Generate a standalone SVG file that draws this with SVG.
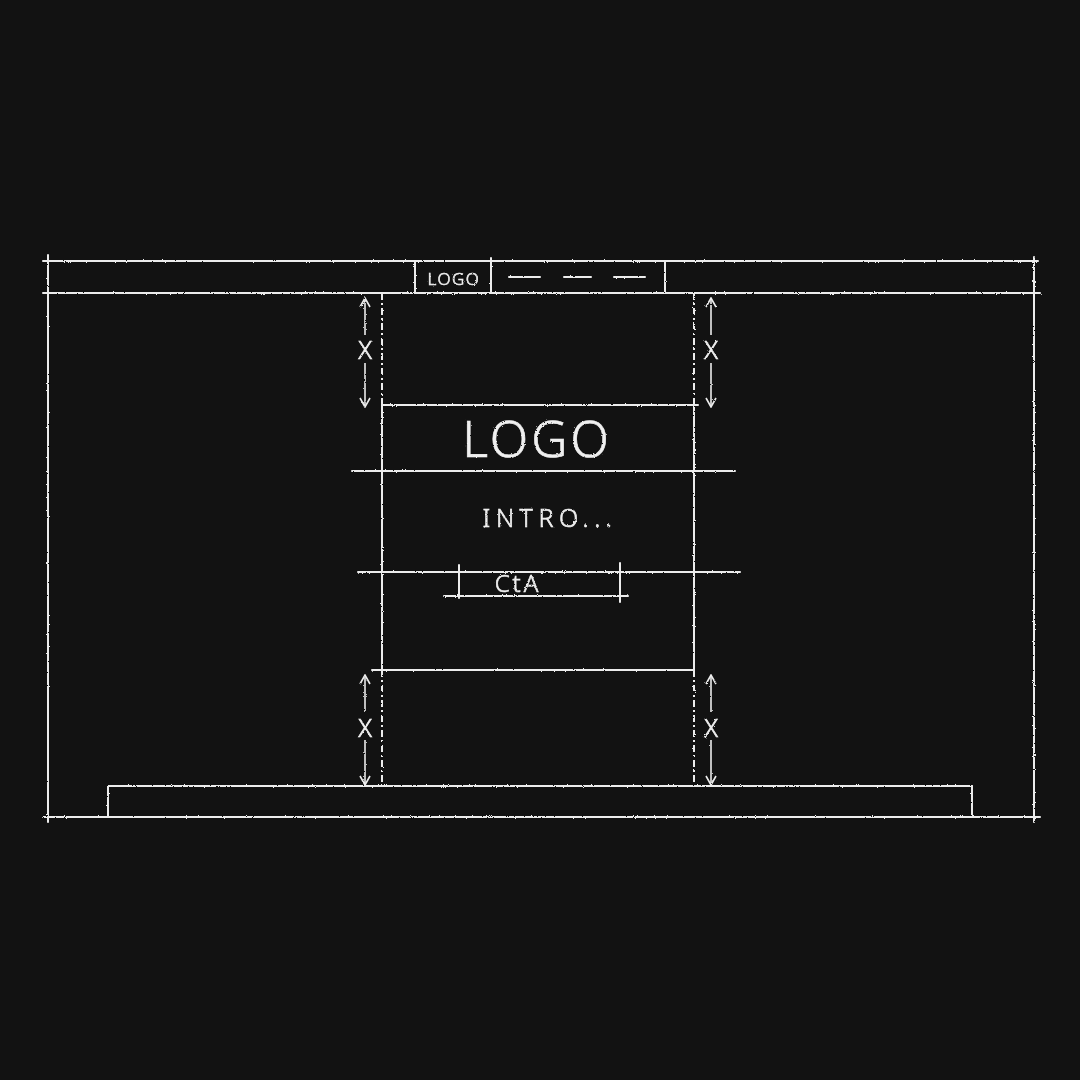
<svg xmlns="http://www.w3.org/2000/svg" width="1080" height="1080" viewBox="0 0 1080 1080">
<defs>
<filter id="rough" x="-5%" y="-5%" width="110%" height="110%">
<feTurbulence type="fractalNoise" baseFrequency="0.9" numOctaves="2" seed="3"/>
<feDisplacementMap in="SourceGraphic" scale="2.2"/>
</filter>
<marker id="ah" viewBox="0 0 12 12" refX="11" refY="6" markerWidth="12" markerHeight="12" markerUnits="userSpaceOnUse" orient="auto-start-reverse">
<path d="M2 1 L11 6 L2 11" fill="none" stroke="#ececec" stroke-width="1.6"/>
</marker>
<style>
.l{stroke:#ececec;stroke-width:2;fill:none;stroke-linecap:round}
.d{stroke:#ececec;stroke-width:2;fill:none;stroke-dasharray:7 3 2 3}
.a{stroke:#ececec;stroke-width:1.6;fill:none}
.t{fill:#f0f0f0;stroke:#f0f0f0;stroke-width:0.6;font-family:"Noto Sans","DejaVu Sans",sans-serif;font-weight:300}
</style>
</defs>
<rect width="1080" height="1080" fill="#121212"/>
<g filter="url(#rough)">
<g id="frame">
<line class="l" x1="43" y1="261" x2="1038" y2="261"/>
<line class="l" x1="43" y1="293" x2="1040" y2="293"/>
<line class="l" x1="43" y1="817" x2="1040" y2="817"/>
<line class="l" x1="48" y1="255" x2="48" y2="822"/>
<line class="l" x1="1034" y1="257" x2="1034" y2="822"/>
</g>
<g id="header-nav">
<line class="l" x1="415" y1="261" x2="415" y2="293"/>
<line class="l" x1="491" y1="258" x2="491" y2="293"/>
<line class="l" x1="665" y1="261" x2="665" y2="293"/>
<text class="t" x="454" y="285" font-size="17" text-anchor="middle" letter-spacing="1.5">LOGO</text>
<line class="l" x1="509" y1="277" x2="540" y2="277"/>
<line class="l" x1="564" y1="277" x2="591" y2="277"/>
<line class="l" x1="614" y1="277" x2="645" y2="277"/>
</g>
<g id="content">
<line class="d" x1="382" y1="293" x2="382" y2="405"/>
<line class="d" x1="694" y1="293" x2="694" y2="405"/>
<line class="d" x1="382" y1="670" x2="382" y2="785"/>
<line class="d" x1="694" y1="670" x2="694" y2="785"/>
<line class="l" x1="382" y1="405" x2="698" y2="405"/>
<line class="l" x1="382" y1="405" x2="382" y2="670"/>
<line class="l" x1="694" y1="405" x2="694" y2="670"/>
<line class="l" x1="352" y1="471" x2="735" y2="471"/>
<line class="l" x1="358" y1="572" x2="740" y2="572"/>
<line class="l" x1="372" y1="670" x2="694" y2="670"/>
<text class="t" x="537" y="457" font-size="50" text-anchor="middle" letter-spacing="3">LOGO</text>
<text class="t" x="550" y="527" font-size="25" text-anchor="middle" letter-spacing="5.5">INTRO...</text>
</g>
<g id="cta">
<line class="l" x1="459" y1="565" x2="459" y2="598"/>
<line class="l" x1="620" y1="563" x2="620" y2="602"/>
<line class="l" x1="444" y1="596" x2="628" y2="596"/>
<text class="t" x="518" y="592" font-size="24" text-anchor="middle" letter-spacing="3">CtA</text>
</g>
<g id="footer">
<line class="l" x1="108" y1="786" x2="972" y2="786"/>
<line class="l" x1="108" y1="786" x2="108" y2="817"/>
<line class="l" x1="972" y1="786" x2="972" y2="817"/>
</g>
<g id="connectors">
<line class="a" x1="365" y1="298" x2="365" y2="335" marker-start="url(#ah)"/>
<line class="a" x1="365" y1="363" x2="365" y2="407" marker-end="url(#ah)"/>
<line class="a" x1="711" y1="298" x2="711" y2="335" marker-start="url(#ah)"/>
<line class="a" x1="711" y1="363" x2="711" y2="407" marker-end="url(#ah)"/>
<line class="a" x1="365" y1="675" x2="365" y2="712" marker-start="url(#ah)"/>
<line class="a" x1="365" y1="740" x2="365" y2="785" marker-end="url(#ah)"/>
<line class="a" x1="711" y1="675" x2="711" y2="712" marker-start="url(#ah)"/>
<line class="a" x1="711" y1="740" x2="711" y2="785" marker-end="url(#ah)"/>
<text class="t" x="365" y="359" font-size="25" text-anchor="middle">X</text>
<text class="t" x="711" y="359" font-size="25" text-anchor="middle">X</text>
<text class="t" x="365" y="737" font-size="25" text-anchor="middle">X</text>
<text class="t" x="711" y="737" font-size="25" text-anchor="middle">X</text>
</g>
</g>
</svg>
